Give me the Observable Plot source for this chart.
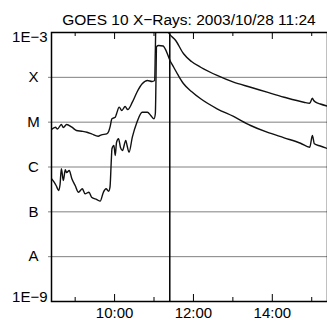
<!DOCTYPE html>
<html><head><meta charset="utf-8">
<script src="https://cdn.jsdelivr.net/npm/d3@7"></script>
<script src="https://cdn.jsdelivr.net/npm/@observablehq/plot@0.6"></script>
<style>
html,body{margin:0;padding:0;background:#fff;}
#wrap{position:relative;width:327px;height:330px;font-family:"Liberation Sans",Arial,Helvetica,sans-serif;}
#title{position:absolute;left:51px;width:276px;top:12px;text-align:center;font-size:15.5px;line-height:15px;color:#000;white-space:nowrap;}
#chart{position:absolute;left:0;top:0;}
</style></head><body>
<div id="wrap"><div id="chart"></div><div id="title">GOES 10 X−Rays: 2003/10/28 11:24</div></div>
<script>
const day = "2003-10-28";
// 1-8 Å (long) channel
const longTimes = ["08:24","08:30","08:33","08:39","08:42","08:47","08:55","09:02","09:10","09:18","09:25","09:35","09:40","09:48","09:51","09:53","09:56","10:01","10:03","10:07","10:11","10:16","10:20","10:27","10:34","10:42","10:50","10:57","11:01","11:02","11:03","11:10","11:19","11:22","11:33","11:45","11:57","12:11","12:36","13:01","13:27","13:52","14:18","14:48","14:57","15:01","15:03","15:06","15:13","15:24"];
const longFlux = [6.86e-6,7.73e-6,7.03e-6,8.87e-6,7.60e-6,8.87e-6,7.73e-6,6.52e-6,6.28e-6,5.97e-6,5.50e-6,4.86e-6,5.22e-6,5.50e-6,6.19e-6,7.73e-6,1.19e-5,1.29e-5,1.54e-5,2.16e-5,1.82e-5,2.23e-5,1.91e-5,2.79e-5,4.66e-5,7.18e-5,8.50e-5,8.07e-5,8.50e-5,3.96e-4,1.85e-3,2.4e-3,1.23e-3,1.0e-3,6.63e-4,3.35e-4,2.25e-4,1.68e-4,1.10e-4,7.79e-5,6.02e-5,4.66e-5,3.60e-5,2.79e-5,2.65e-5,3.42e-5,3.04e-5,2.79e-5,2.54e-5,2.29e-5];
// 0.5-4 Å (short) channel
const shortTimes = ["08:24","08:28","08:31","08:35","08:37","08:39","08:42","08:45","08:47","08:51","08:55","09:00","09:05","09:11","09:15","09:21","09:25","09:33","09:38","09:43","09:47","09:51","09:53","09:55","09:56","09:59","10:01","10:03","10:06","10:09","10:12","10:17","10:19","10:22","10:27","10:34","10:42","10:50","10:55","11:00","11:02","11:04","11:07","11:14","11:17","11:25","11:30","11:37","11:45","11:57","12:11","12:36","13:01","13:27","13:52","14:18","14:43","14:57","15:01","15:04","15:13","15:24"];
const shortFlux = [5.46e-7,4.58e-7,3.87e-7,2.99e-7,4.07e-7,9.12e-7,5.00e-7,8.65e-7,7.53e-7,8.35e-7,5.46e-7,3.87e-7,2.74e-7,3.26e-7,2.52e-7,2.74e-7,2.12e-7,1.88e-7,1.73e-7,2.74e-7,3.26e-7,2.88e-7,3.54e-7,1.40e-6,2.55e-6,3.01e-6,1.80e-6,3.57e-6,4.26e-6,2.72e-6,2.33e-6,3.90e-6,3.01e-6,2.14e-6,4.62e-6,9.98e-6,1.67e-5,1.67e-5,1.41e-5,1.19e-5,1.54e-5,4.88e-4,5.13e-4,5.0e-4,4.33e-4,2.25e-4,1.68e-4,1.10e-4,7.18e-5,4.83e-5,3.32e-5,1.99e-5,1.34e-5,8.43e-6,5.97e-6,4.48e-6,3.39e-6,2.76e-6,5.04e-6,3.29e-6,2.94e-6,2.58e-6];

const yEndValues = [1e-3, 1e-9];
const yEndLabels = ["1E−3", "1E−9"];
const yClassValues = [1e-4, 1e-5, 1e-6, 1e-7, 1e-8];
const yClassLabels = ["X", "M", "C", "B", "A"];
const xMajorTicks = ["10:00", "12:00", "14:00"];
const xMinorTicks = ["09:00", "11:00", "13:00", "15:00"];
const xDomain = ["08:24", "15:24"];
const markerTime = "11:24";

const toDate = t => new Date(`${day}T${t}:00Z`);
const series = [
  ...longTimes.map((t, i) => ({t: toDate(t), v: longFlux[i], s: "long"})),
  ...shortTimes.map((t, i) => ({t: toDate(t), v: shortFlux[i], s: "short"}))
];

const W = 327, H = 330, mL = 51, mR = 0, mT = 32, mB = 29;
const innerH = H - mT - mB;
const font = "'Liberation Sans', Arial, Helvetica, sans-serif";

const chart = Plot.plot({
  width: W, height: H,
  marginLeft: mL, marginRight: mR, marginTop: mT, marginBottom: mB,
  style: {fontFamily: font, fontSize: "15px", background: "transparent", color: "#000"},
  x: {type: "utc", domain: xDomain.map(toDate), axis: null},
  y: {type: "log", domain: [1e-9, 1e-3], axis: null},
  marks: [
    Plot.ruleY(yClassValues, {stroke: "#808080", strokeWidth: 1, insetLeft: -3}),
    Plot.ruleX(xMajorTicks.map(toDate), {stroke: "#000", strokeWidth: 1, insetTop: innerH - 7}),
    Plot.ruleX(xMajorTicks.map(toDate), {stroke: "#000", strokeWidth: 1, insetBottom: innerH - 7}),
    Plot.ruleX(xMinorTicks.map(toDate), {stroke: "#000", strokeWidth: 1, insetTop: innerH - 4}),
    Plot.ruleX(xMinorTicks.map(toDate), {stroke: "#000", strokeWidth: 1, insetBottom: innerH - 4}),
    Plot.ruleX([toDate(markerTime)], {stroke: "#000", strokeWidth: 1.5}),
    Plot.lineY(series, {x: "t", y: "v", z: "s", stroke: "#111", strokeWidth: 1.4, curve: "monotone-x", clip: true}),
    Plot.frame({stroke: "#000", strokeWidth: 1.5}),
    Plot.text(xMajorTicks, {x: d => toDate(d), text: d => d, frameAnchor: "bottom", dy: 16.5, fontSize: 15, fill: "#000"}),
    Plot.text([0], {y: () => yEndValues[0], text: () => yEndLabels[0], frameAnchor: "left", dx: -4, dy: 5, textAnchor: "end", fontSize: 15, fill: "#000"}),
    Plot.text([1], {y: () => yEndValues[1], text: () => yEndLabels[1], frameAnchor: "left", dx: -4, dy: -4, textAnchor: "end", fontSize: 15, fill: "#000"}),
    Plot.text(yClassValues, {y: d => d, text: (d, i) => yClassLabels[i], frameAnchor: "left", dx: -18, textAnchor: "middle", fontSize: 15, fill: "#000"})
  ]
});
document.getElementById("chart").appendChild(chart);
</script>
</body></html>
